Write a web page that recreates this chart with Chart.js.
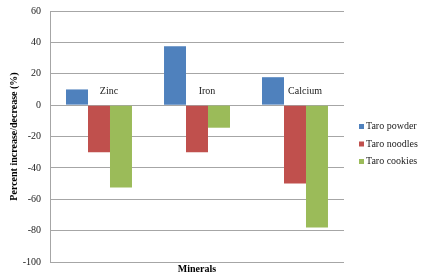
<!DOCTYPE html>
<html>
<head>
<meta charset="utf-8">
<script src="https://cdn.jsdelivr.net/npm/chart.js@4/dist/chart.umd.min.js"></script>
<style>
html,body{margin:0;padding:0;background:#fff;}
#wrap{width:425px;height:278px;position:relative;}
</style>
</head>
<body>
<div id="wrap"><canvas id="c" width="425" height="278"></canvas></div>
<script>
const categories = ["Zinc", "Iron", "Calcium"];
const seriesNames = ["Taro powder", "Taro noodles", "Taro cookies"];
const taroPowder = [10, 37.6, 17.8];
const taroNoodles = [-30, -30, -50];
const taroCookies = [-52.5, -14.4, -78];
const yTicks = [-100, -80, -60, -40, -20, 0, 20, 40, 60];
const colors = ["#4F81BD", "#C0504D", "#9BBB59"];

const FONT = "'Liberation Serif', 'Times New Roman', serif";

const catLabelPlugin = {
  id: 'catLabels',
  afterDatasetsDraw(chart) {
    const ctx = chart.ctx;
    const xs = chart.scales.x, ys = chart.scales.y;
    const y0 = ys.getPixelForValue(0);
    ctx.save();
    ctx.font = "10px " + FONT;
    ctx.fillStyle = "#1a1a1a";
    ctx.textAlign = "center";
    ctx.textBaseline = "middle";
    categories.forEach((c, i) => {
      ctx.fillText(c, xs.getPixelForValue(i) + 10, y0 - 14);
    });
    ctx.restore();
  }
};

const legendPlugin = {
  id: 'customLegend',
  afterDraw(chart) {
    const ctx = chart.ctx;
    ctx.save();
    ctx.font = "10px " + FONT;
    ctx.textBaseline = "middle";
    ctx.textAlign = "left";
    chart.data.datasets.forEach((ds, i) => {
      const cy = 126.5 + i * 17.5;
      ctx.fillStyle = ds.backgroundColor;
      ctx.fillRect(359, cy - 2.5, 5, 5);
      ctx.fillStyle = "#1a1a1a";
      ctx.fillText(ds.label, 366, cy);
    });
    ctx.restore();
  }
};

new Chart(document.getElementById('c'), {
  type: 'bar',
  data: {
    labels: categories,
    datasets: [
      {label: seriesNames[0], data: taroPowder, backgroundColor: colors[0]},
      {label: seriesNames[1], data: taroNoodles, backgroundColor: colors[1]},
      {label: seriesNames[2], data: taroCookies, backgroundColor: colors[2]}
    ]
  },
  options: {
    responsive: false,
    animation: false,
    layout: {padding: {left: 0, top: 11, right: 81, bottom: 0}},
    datasets: {bar: {categoryPercentage: 0.673, barPercentage: 1.0, borderWidth: 0}},
    plugins: {legend: {display: false}, tooltip: {enabled: false}},
    scales: {
      x: {
        offset: true,
        grid: {display: false},
        border: {display: false},
        ticks: {display: false},
        title: {display: true, text: "Minerals", color: "#000",
                font: {family: FONT, size: 10, weight: 'bold'}, padding: {top: 0, bottom: 3}},
        afterFit(s) { s.height = 16; s.paddingLeft = 0; s.paddingRight = 0; }
      },
      y: {
        min: -100, max: 60,
        afterBuildTicks(s) { s.ticks = yTicks.map(v => ({value: v})); },
        ticks: {color: "#1a1a1a", font: {family: FONT, size: 10}, padding: 9},
        grid: {color: "#a6a6a6", lineWidth: 1, drawTicks: false},
        border: {display: true, color: "#a6a6a6"},
        title: {display: true, text: "Percent increase/decrease (%)", color: "#000",
                font: {family: FONT, size: 10, weight: 'bold'}, padding: {top: 8, bottom: 0}},
        afterFit(s) { s.width = 50; s.paddingTop = 0; s.paddingBottom = 0; }
      }
    }
  },
  plugins: [catLabelPlugin, legendPlugin]
});
</script>
</body>
</html>
